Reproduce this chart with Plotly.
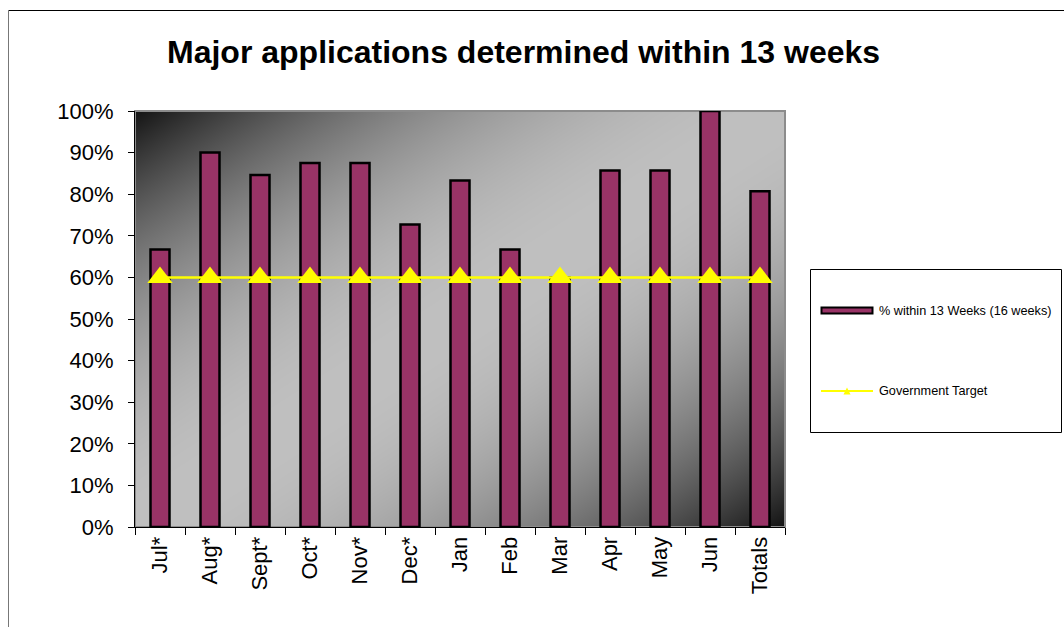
import base64
import struct
import zlib

import numpy as np
import plotly.graph_objects as go

# ---- data -------------------------------------------------------------
months = ["Jul*", "Aug*", "Sept*", "Oct*", "Nov*", "Dec*", "Jan", "Feb",
          "Mar", "Apr", "May", "Jun", "Totals"]
pct_within = [0.667, 0.900, 0.846, 0.875, 0.875, 0.727, 0.833, 0.667,
              0.600, 0.857, 0.857, 1.000, 0.807]
gov_target = [0.60] * len(months)

title_text = "Major applications determined within 13 weeks"
bar_name = "% within 13 Weeks (16 weeks)"
line_name = "Government Target"

# ---- layout geometry (pixels) -----------------------------------------
W, H = 1064, 627
PL, PR, PT, PB = 135, 785, 111, 527          # plot area edges
PW, PH = PR - PL, PB - PT

FONT = "Liberation Sans, Arial, Helvetica, sans-serif"
PLUM = "#993366"
YELLOW = "#FFFF00"


def px(x):
    return (x - PL) / PW


def py(y):
    return (PB - y) / PH


# ---- diagonal grey gradient for the plot background -------------------
def gradient_png(w, h):
    xs = np.linspace(0, 1, w)[None, :]
    ys = np.linspace(0, 1, h)[:, None]
    s = xs + ys
    t = 1 - np.abs(s - 1)           # 0 at top-left / bottom-right corners
    f = 1 - (1 - t) ** 2
    dark, light = 20, 192
    img = (dark + (light - dark) * f).astype(np.uint8)
    raw = b"".join(b"\x00" + img[r].tobytes() for r in range(h))

    def chunk(tag, data):
        c = tag + data
        return struct.pack(">I", len(data)) + c + struct.pack(">I", zlib.crc32(c) & 0xFFFFFFFF)

    png = b"\x89PNG\r\n\x1a\n"
    png += chunk(b"IHDR", struct.pack(">IIBBBBB", w, h, 8, 0, 0, 0, 0))
    png += chunk(b"IDAT", zlib.compress(raw, 9))
    png += chunk(b"IEND", b"")
    return "data:image/png;base64," + base64.b64encode(png).decode()


fig = go.Figure()

fig.add_trace(go.Bar(
    x=months, y=pct_within, name=bar_name, width=0.38,
    marker=dict(color=PLUM, line=dict(color="black", width=2.5)),
    showlegend=False,
))

fig.add_trace(go.Scatter(
    x=months, y=gov_target, name=line_name, mode="lines+markers",
    line=dict(color=YELLOW, width=2.5),
    marker=dict(symbol="triangle-up", size=22, color=YELLOW),
    showlegend=False, cliponaxis=False,
))

shapes = [
    # plot area frame
    dict(type="rect", xref="paper", yref="paper", x0=0, x1=1, y0=0, y1=1,
         line=dict(color="#8c8c8c", width=2), layer="below"),
    # outer chart border (top and left visible)
    dict(type="line", xref="paper", yref="paper", x0=px(8.5), x1=px(1100),
         y0=py(10.5), y1=py(10.5), line=dict(color="black", width=1)),
    dict(type="line", xref="paper", yref="paper", x0=px(8.5), x1=px(8.5),
         y0=py(10.5), y1=py(700), line=dict(color="#777777", width=1)),
    # legend box
    dict(type="rect", xref="paper", yref="paper", x0=px(810.5), x1=px(1061.5),
         y0=py(269.5), y1=py(432.5), line=dict(color="black", width=1),
         fillcolor="white"),
    # legend swatch: bar
    dict(type="rect", xref="paper", yref="paper", x0=px(821.5), x1=px(872.5),
         y0=py(307.5), y1=py(313.5), line=dict(color="black", width=2),
         fillcolor=PLUM),
    # legend swatch: target line
    dict(type="line", xref="paper", yref="paper", x0=px(821), x1=px(873),
         y0=py(391), y1=py(391), line=dict(color=YELLOW, width=2)),
    dict(type="path", xref="paper", yref="paper",
         path="M {} {} L {} {} L {} {} Z".format(px(843.5), py(394.5), px(850.5), py(394.5),
                                                 px(847), py(387.5)),
         fillcolor=YELLOW, line=dict(color=YELLOW, width=0)),
]

annotations = [
    dict(text="<b>%s</b>" % title_text, xref="paper", yref="paper",
         x=px(523.5), y=py(52), xanchor="center", yanchor="middle", showarrow=False,
         font=dict(family=FONT, size=32, color="black")),
    dict(text=bar_name, xref="paper", yref="paper", x=px(877), y=py(310.5),
         xanchor="left", yanchor="middle", showarrow=False,
         font=dict(family=FONT, size=12.7, color="black")),
    dict(text=line_name, xref="paper", yref="paper", x=px(877), y=py(391),
         xanchor="left", yanchor="middle", showarrow=False,
         font=dict(family=FONT, size=12.7, color="black")),
]

fig.update_layout(
    width=W, height=H,
    margin=dict(l=PL, r=W - PR, t=PT, b=H - PB, pad=0),
    paper_bgcolor="white",
    plot_bgcolor="rgba(0,0,0,0)",
    font=dict(family=FONT, color="black"),
    shapes=shapes,
    annotations=annotations,
    images=[dict(source=gradient_png(PW, PH), xref="paper", yref="paper",
                 x=0, y=1, sizex=1, sizey=1, sizing="stretch",
                 xanchor="left", yanchor="top", layer="below")],
    xaxis=dict(
        type="category", range=[-0.5, len(months) - 0.5],
        tickangle=-90, tickson="boundaries",
        ticks="outside", ticklen=7, tickcolor="black", tickwidth=1,
        showline=True, linecolor="black", linewidth=1,
        showgrid=False, zeroline=False,
        tickfont=dict(family=FONT, size=22, color="black"),
    ),
    yaxis=dict(
        range=[0, 1], dtick=0.1, tickformat=".0%",
        ticks="outside", ticklen=6, tickcolor="black", tickwidth=1,
        showline=True, linecolor="black", linewidth=1,
        showgrid=False, zeroline=False, ticklabelstandoff=10,
        tickfont=dict(family=FONT, size=22, color="black"),
    ),
)

fig.write_html("out.html")
